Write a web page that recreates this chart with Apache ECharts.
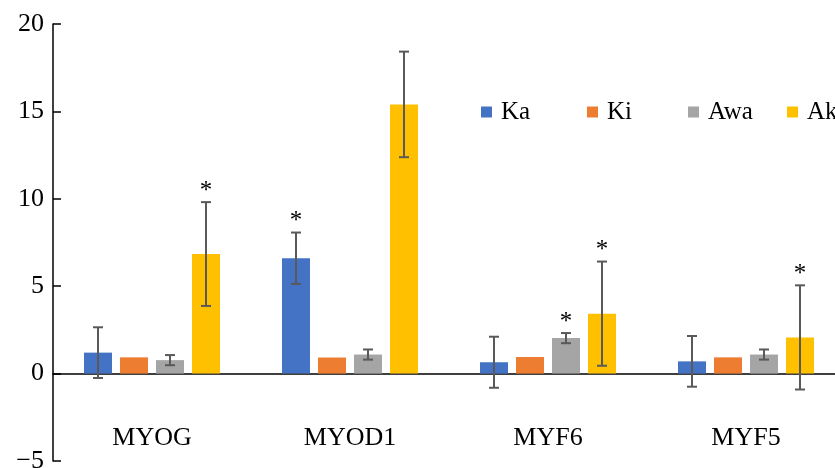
<!DOCTYPE html>
<html>
<head>
<meta charset="utf-8">
<script src="https://cdn.jsdelivr.net/npm/echarts@6/dist/echarts.min.js"></script>
<style>html,body{margin:0;padding:0;background:#fff;}#c{width:835px;height:468px;}</style>
</head>
<body>
<div id="c"></div>
<script>
const categories = ['MYOG', 'MYOD1', 'MYF6', 'MYF5'];
const seriesNames = ['Ka', 'Ki', 'Awa', 'Ak'];
const kaValues = [1.2, 6.6, 0.65, 0.7];
const kaErrors = [1.45, 1.47, 1.46, 1.45];
const kaSig = [0, 1, 0, 0];
const kiValues = [0.93, 0.92, 0.95, 0.93];
const kiErrors = [null, null, null, null];
const kiSig = [0, 0, 0, 0];
const awaValues = [0.77, 1.09, 2.03, 1.09];
const awaErrors = [0.29, 0.29, 0.29, 0.29];
const awaSig = [0, 0, 1, 0];
const akValues = [6.84, 15.4, 3.43, 2.07];
const akErrors = [2.97, 3.02, 2.98, 2.98];
const akSig = [1, 0, 1, 1];
const yTicks = [-5, 0, 5, 10, 15, 20];

const colors = ['#4472C4', '#ED7D31', '#A5A5A5', '#FFC000'];
const allValues = [kaValues, kiValues, awaValues, akValues];
const allErrors = [kaErrors, kiErrors, awaErrors, akErrors];
const allSig = [kaSig, kiSig, awaSig, akSig];

const FONT = '"Liberation Serif", "DejaVu Serif", serif';
const BAR_W = 28, BAR_STEP = 36;

const chart = echarts.init(document.getElementById('c'), null, {renderer: 'canvas'});

const barSeries = seriesNames.map((n, i) => ({
  name: n,
  type: 'bar',
  data: allValues[i],
  barWidth: BAR_W,
  barGap: '28.6%',
  itemStyle: {color: colors[i]},
  silent: true,
  z: 2
}));

const errSeries = seriesNames.map((n, i) => ({
  type: 'custom',
  name: n + '_err',
  data: categories.map((c, k) => [k, allValues[i][k], allErrors[i][k] == null ? 0 : allErrors[i][k], allSig[i][k], allErrors[i][k] == null ? 0 : 1]),
  renderItem: function (params, api) {
    const k = api.value(0), v = api.value(1), e = api.value(2), s = api.value(3), has = api.value(4);
    const off = (i - 1.5) * BAR_STEP;
    const top = api.coord([k, v + e]);
    const bot = api.coord([k, v - e]);
    const x = top[0] + off;
    const children = [];
    const st = {stroke: '#595959', lineWidth: 2};
    if (has) {
      children.push({type: 'line', shape: {x1: x, y1: top[1], x2: x, y2: bot[1]}, style: st});
      children.push({type: 'line', shape: {x1: x - 5, y1: top[1], x2: x + 5, y2: top[1]}, style: st});
      children.push({type: 'line', shape: {x1: x - 5, y1: bot[1], x2: x + 5, y2: bot[1]}, style: st});
    }
    if (s) {
      children.push({type: 'text', style: {text: '*', x: x, y: top[1] - 11, align: 'center', verticalAlign: 'middle', fontSize: 25, fontFamily: FONT, fill: '#000'}});
    }
    return {type: 'group', children: children};
  },
  silent: true,
  z: 5
}));

const legendLefts = [481, 587, 688, 787];
const legends = seriesNames.map((n, i) => ({
  data: [n],
  left: legendLefts[i],
  top: 99,
  padding: 0,
  icon: 'rect',
  itemWidth: 11,
  itemHeight: 11,
  selectedMode: false,
  textStyle: {fontFamily: FONT, fontSize: 25, color: '#000', padding: [0, 0, 0, 4], lineHeight: 26}
}));

chart.setOption({
  animation: false,
  backgroundColor: '#fff',
  color: colors,
  legend: legends,
  grid: {left: 53, top: 24, width: 792, bottom: 7, containLabel: false, outerBoundsMode: 'none'},
  xAxis: [{
    type: 'category',
    data: categories,
    axisLine: {onZero: true, lineStyle: {color: '#000', width: 1.5}},
    axisTick: {show: false},
    axisLabel: {show: false},
    splitLine: {show: false}
  }, {
    type: 'category',
    data: categories,
    position: 'bottom',
    axisLine: {show: false, onZero: false},
    axisTick: {show: false},
    axisLabel: {show: true, inside: true, fontFamily: FONT, fontSize: 26, color: '#000', margin: 10},
    splitLine: {show: false}
  }],
  yAxis: {
    type: 'value',
    min: yTicks[0],
    max: yTicks[yTicks.length - 1],
    interval: 5,
    axisLine: {show: true, lineStyle: {color: '#000', width: 1.5}},
    axisTick: {show: true, inside: true, length: 8, lineStyle: {color: '#000', width: 1.5}},
    axisLabel: {fontFamily: FONT, fontSize: 26, color: '#000', margin: 9,
      formatter: v => (v < 0 ? '\u2212' + Math.abs(v) : String(v))},
    splitLine: {show: false}
  },
  series: barSeries.concat(errSeries)
});
</script>
</body>
</html>
